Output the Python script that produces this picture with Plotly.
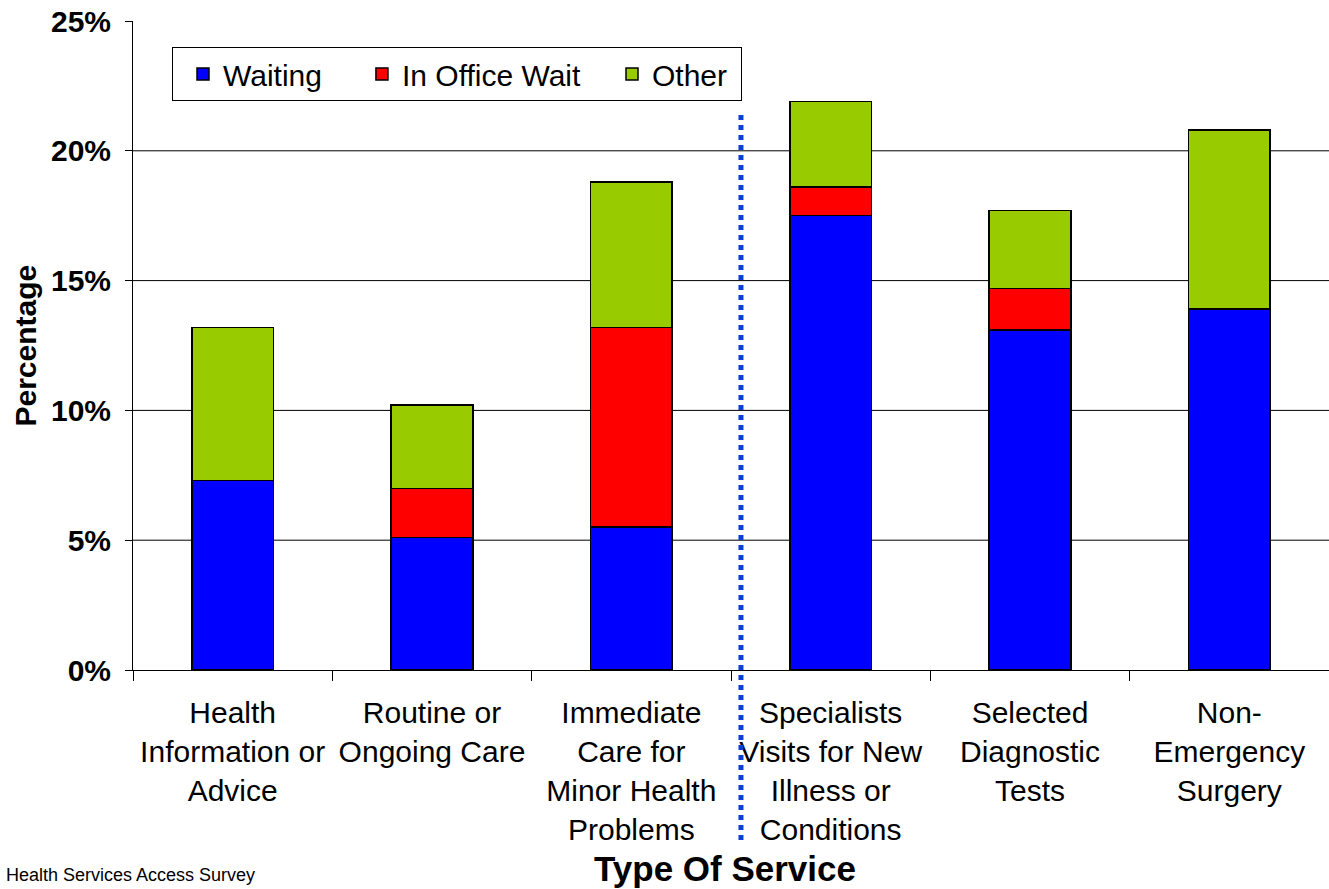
import plotly.graph_objects as go

categories = [
    "Health<br>Information or<br>Advice",
    "Routine or<br>Ongoing Care",
    "Immediate<br>Care for<br>Minor Health<br>Problems",
    "Specialists<br>Visits for New<br>Illness or<br>Conditions",
    "Selected<br>Diagnostic<br>Tests",
    "Non-<br>Emergency<br>Surgery",
]
waiting = [7.3, 5.1, 5.5, 17.5, 13.1, 13.9]
in_office_wait = [0.0, 1.9, 7.7, 1.1, 1.6, 0.0]
other = [5.9, 3.2, 5.6, 3.3, 3.0, 6.9]

series_names = ["Waiting", "In Office Wait", "Other"]
y_tick_vals = [0, 5, 10, 15, 20, 25]
y_tick_text = ["0%", "5%", "10%", "15%", "20%", "25%"]
grid_vals = [5, 10, 15, 20]
divider_position = 2.55  # between first-contact services and specialized services

FONT = "Liberation Sans, Arial, sans-serif"
W, H = 1329, 889
PLOT_LEFT, PLOT_TOP, PLOT_BOTTOM = 133, 21, 670  # page pixels
ML, MT, MR = PLOT_LEFT, PLOT_TOP, 0
MB = H - PLOT_BOTTOM
plot_h = PLOT_BOTTOM - PLOT_TOP
plot_w = W - ML - MR

def py(px):
    return (PLOT_BOTTOM - px) / plot_h

def px_(x):
    return (x - PLOT_LEFT) / plot_w

NB = "\u00a0"
legend_pad = [3, 2, 1]

fig = go.Figure()
series = [(series_names[0], waiting, "#0000FF"),
          (series_names[1], in_office_wait, "#FF0000"),
          (series_names[2], other, "#99CC00")]
for (name, vals, col), pad in zip(series, legend_pad):
    fig.add_trace(go.Bar(
        x=categories, y=vals, name=name + NB * pad,
        marker=dict(color=col, line=dict(color="#000000", width=1.5)),
        hoverinfo="skip",
    ))

shapes = []
for g in grid_vals:
    shapes.append(dict(type="line", xref="paper", yref="y", x0=0, x1=1, y0=g, y1=g,
                       line=dict(color="#000000", width=1), layer="below"))
shapes.append(dict(type="line", xref="x", yref="paper",
                   x0=divider_position, x1=divider_position,
                   y0=py(840), y1=py(110),
                   line=dict(color="#0A3FD8", width=5, dash="5px,5px"), layer="above"))

fig.update_layout(
    width=W, height=H,
    margin=dict(l=ML, r=MR, t=MT, b=MB, pad=0),
    paper_bgcolor="white", plot_bgcolor="white",
    barmode="stack", bargap=0.59,
    font=dict(family=FONT, size=30, color="black"),
    showlegend=True,
    legend=dict(orientation="h", x=px_(172), y=py(47),
                xanchor="left", yanchor="top",
                bordercolor="black", borderwidth=1, bgcolor="white",
                font=dict(family=FONT, size=30, color="black"),
                indentation=10,
                traceorder="normal"),
    xaxis=dict(
        range=[-0.5, 5.5], type="category", automargin=False,
        showline=True, linecolor="black", linewidth=1,
        ticks="outside", ticklen=10, tickcolor="black", tickson="boundaries",
        tickfont=dict(family=FONT, size=30, color="black"),
        ticklabelstandoff=16,
        showgrid=False, zeroline=False, fixedrange=True,
    ),
    yaxis=dict(
        range=[0, 25], tickvals=y_tick_vals, ticktext=y_tick_text, automargin=False,
        showline=True, linecolor="black", linewidth=1,
        ticks="outside", ticklen=7, tickcolor="black",
        tickfont=dict(family=FONT, size=30, color="black", weight="bold"),
        ticklabelstandoff=8, ticklabeloverflow="allow",
        showgrid=False, zeroline=False, fixedrange=True,
    ),
    shapes=shapes,
    annotations=[
        dict(text="Percentage", textangle=-90, xref="paper", yref="paper",
             x=px_(25), y=0.5, xanchor="center", yanchor="middle",
             showarrow=False, font=dict(family=FONT, size=30, color="black", weight="bold")),
        dict(text="Type Of Service", xref="paper", yref="paper",
             x=px_(725), y=py(868), xanchor="center", yanchor="middle",
             showarrow=False, font=dict(family=FONT, size=35, color="black", weight="bold")),
        dict(text="Health Services Access Survey", xref="paper", yref="paper",
             x=px_(4), y=py(887), xanchor="left", yanchor="bottom",
             showarrow=False, font=dict(family=FONT, size=18, color="black")),
    ],
)

fig.write_html(
    "out.html",
    config={"displayModeBar": False},
    post_script="document.body.style.margin='0';document.body.style.overflow='hidden';",
)
